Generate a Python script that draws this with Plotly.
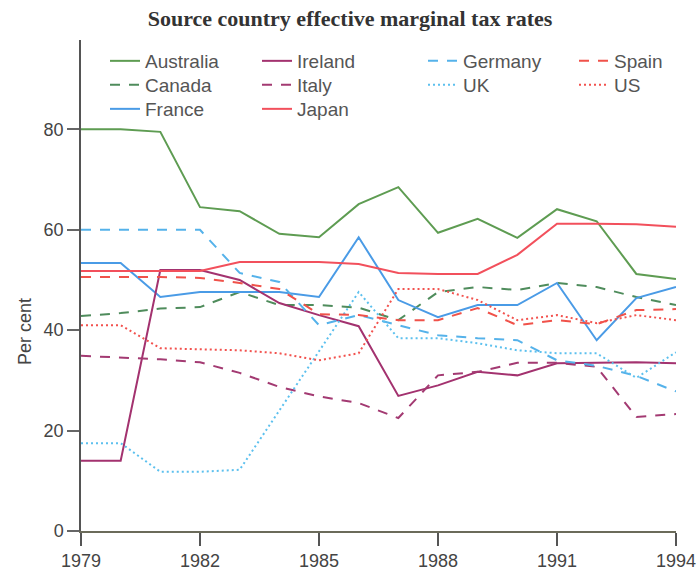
import plotly.graph_objects as go

years = list(range(1979, 1995))

australia = [80, 80, 79.5, 64.5, 63.7, 59.2, 58.5, 65.1, 68.5, 59.4, 62.2, 58.4, 64.1, 61.7, 51.2, 50.2]
canada = [42.8, 43.4, 44.3, 44.6, 47.6, 45, 45, 44.5, 42, 47.6, 48.6, 48, 49.4, 48.6, 46.6, 45]
france = [53.4, 53.4, 46.6, 47.6, 47.6, 47.6, 46.6, 58.5, 46, 42.6, 45, 45, 49.4, 38, 46.4, 48.6]
ireland = [14, 14, 52, 52, 50, 45.4, 43, 40.8, 26.9, 29, 31.7, 31, 33.4, 33.5, 33.6, 33.4]
italy = [34.9, 34.6, 34.2, 33.6, 31.5, 28.7, 26.8, 25.5, 22.5, 31, 31.7, 33.5, 33.5, 32.7, 22.7, 23.3]
japan = [51.8, 51.8, 51.8, 51.8, 53.6, 53.6, 53.6, 53.2, 51.4, 51.2, 51.2, 55, 61.2, 61.2, 61.1, 60.6]
germany = [60, 60, 60, 60, 51.4, 49.6, 41, 43, 41, 39, 38.4, 38, 34, 32.9, 30.9, 27.8]
uk = [17.5, 17.5, 11.8, 11.8, 12.2, 24, 35.7, 47.6, 38.4, 38.4, 37.4, 36, 35.4, 35.4, 30.5, 35.6]
spain = [50.6, 50.6, 50.6, 50.4, 49.4, 48.2, 43.2, 43, 42, 42, 44.4, 41, 42, 41.2, 44, 44.2]
us = [41, 41, 36.4, 36.2, 36, 35.4, 34, 35.4, 48.2, 48.2, 46, 42, 43, 41.4, 43, 42]

x_ticks = [1979, 1982, 1985, 1988, 1991, 1994]
y_ticks = [0, 20, 40, 60, 80]

# (name, values, colour, dash, legend column, legend row)
series = [
    ("Australia", australia, "#5e9c52", "solid", 0, 0),
    ("Canada", canada, "#4f8c5c", "10px,9px", 0, 1),
    ("France", france, "#4a9be6", "solid", 0, 2),
    ("Ireland", ireland, "#a3326f", "solid", 1, 0),
    ("Italy", italy, "#a33a72", "10px,9px", 1, 1),
    ("Japan", japan, "#f2505c", "solid", 1, 2),
    ("Germany", germany, "#55b2ea", "10px,9px", 2, 0),
    ("UK", uk, "#5cc0ee", "2px,3px", 2, 1),
    ("Spain", spain, "#f0524a", "10px,9px", 3, 0),
    ("US", us, "#f2524e", "2px,3px", 3, 1),
]

W, H = 698, 571
ml, mr, mt, mb = 81, 22, 40, 40
ph = H - mt - mb

col_x = [105, 257, 423, 574]
row_top = [42, 66, 90]

leg_font = dict(family="Liberation Sans, Arial, sans-serif", size=19, color="#555555")

fig = go.Figure()
legends = {}
for i, (name, vals, col, dash, c, r) in enumerate(series):
    key = "legend" if i == 0 else f"legend{i + 1}"
    fig.add_trace(go.Scatter(
        x=years, y=vals, name=name, mode="lines",
        line=dict(color=col, width=2, dash=dash),
        legend=key, showlegend=True,
    ))
    legends[key] = dict(
        font=leg_font, bgcolor="rgba(0,0,0,0)", borderwidth=0,
        orientation="v", xref="container", yref="container",
        x=col_x[c] / W, y=1 - row_top[r] / H,
        xanchor="left", yanchor="top", itemwidth=30, visible=True,
    )

fig.update_layout(
    width=W, height=H,
    showlegend=True,
    margin=dict(l=ml, r=mr, t=mt, b=mb, autoexpand=False),
    paper_bgcolor="white", plot_bgcolor="white",
    title=dict(
        text="<b>Source country effective marginal tax rates</b>",
        font=dict(family="Liberation Serif, Times New Roman, serif", size=22, color="#333333"),
        x=350 / W, xref="container", xanchor="center",
        y=1 - 18 / H, yref="container", yanchor="middle",
    ),
    xaxis=dict(
        range=[1979, 1994], tickmode="array", tickvals=x_ticks,
        ticktext=[str(v) for v in x_ticks], automargin=False,
        showgrid=False, zeroline=False, showline=True, linecolor="#6b6b5a", linewidth=1.5,
        ticks="outside", ticklen=13, tickwidth=1.5, tickcolor="#555555",
        tickfont=dict(family="Liberation Sans, Arial, sans-serif", size=18, color="#444444"),
    ),
    yaxis=dict(
        range=[0, 97.8], tickmode="array", tickvals=y_ticks,
        ticktext=[str(v) for v in y_ticks], automargin=False,
        showgrid=False, zeroline=False, showline=True, linecolor="#555555", linewidth=1.5,
        ticks="outside", ticklen=12, tickwidth=1.5, tickcolor="#666666",
        tickfont=dict(family="Liberation Sans, Arial, sans-serif", size=18, color="#444444"),
    ),
    annotations=[dict(
        text="Per cent", textangle=-90, xref="paper", yref="paper",
        x=(25 - ml) / (W - ml - mr), y=1 - (332 - mt) / ph,
        xanchor="center", yanchor="middle", showarrow=False,
        font=dict(family="Liberation Sans, Arial, sans-serif", size=18, color="#444444"),
    )],
    **legends,
)

fig.write_html(
    "out.html",
    config={"displayModeBar": False},
    post_script="document.body.style.margin='0';document.body.style.padding='0';",
)
